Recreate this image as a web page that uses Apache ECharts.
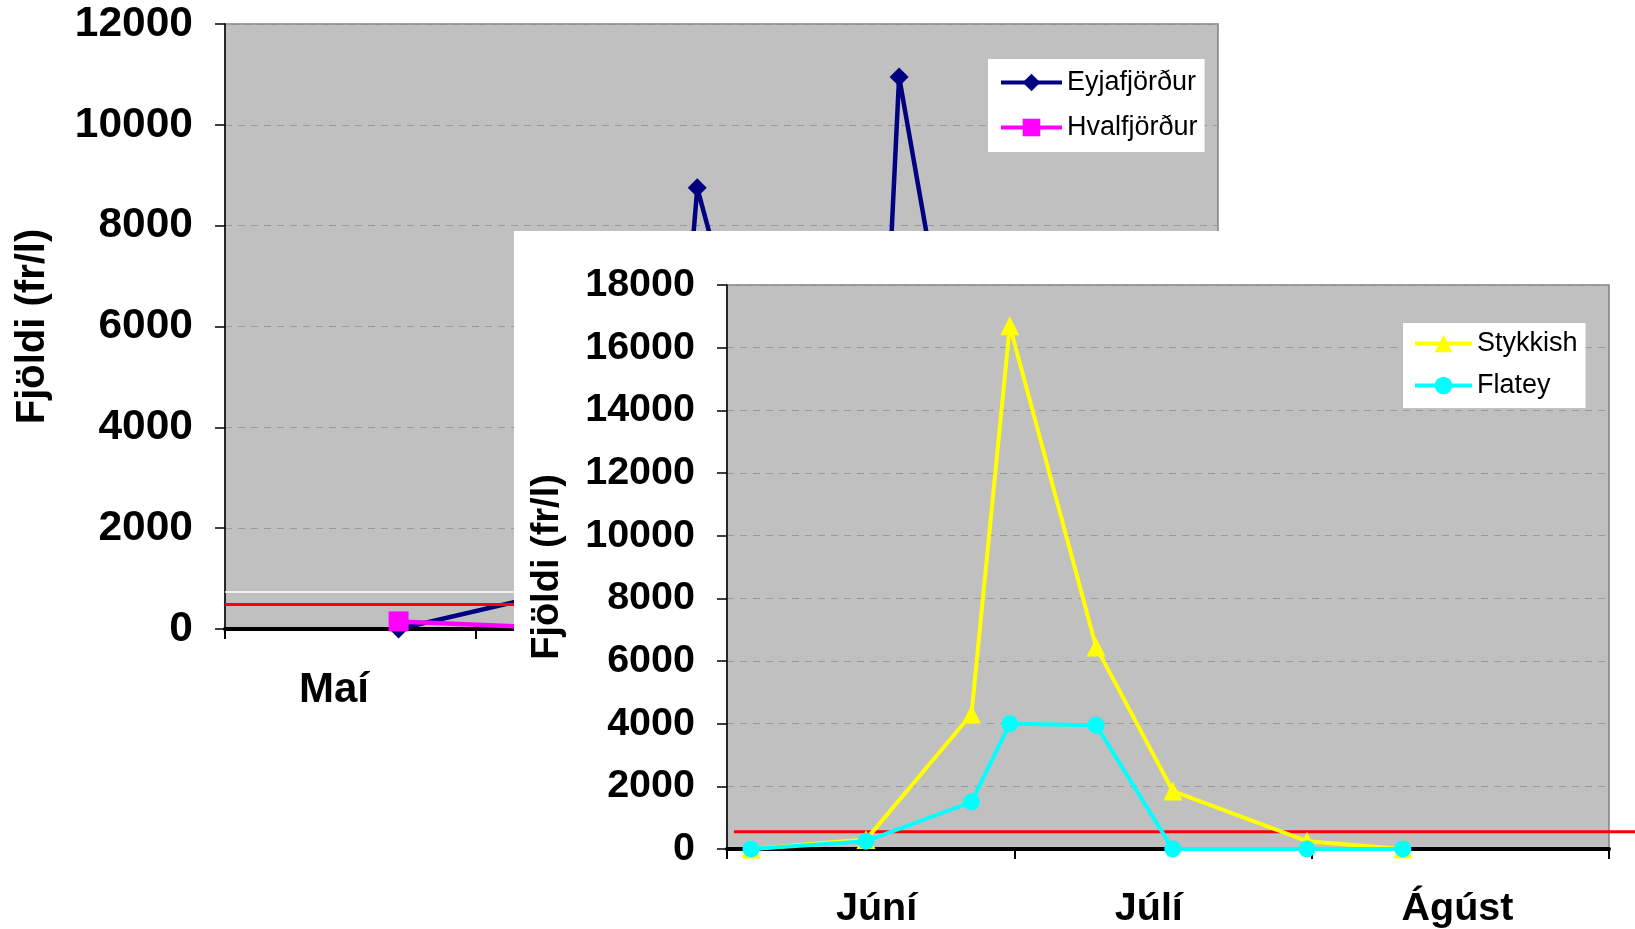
<!DOCTYPE html>
<html><head><meta charset="utf-8">
<script src="https://cdn.jsdelivr.net/npm/echarts@6/dist/echarts.min.js"></script>
<style>html,body{margin:0;padding:0;background:#fff}#c{width:1635px;height:929px}</style>
</head><body><div id="c"></div>
<script>
// ---- data ----
const monthNames = ['Maí', 'Júní', 'Júlí', 'Ágúst'];
const monthStarts = ['2005-05-01', '2005-06-01', '2005-07-01', '2005-08-01', '2005-09-01'];
const monthLabelOffsets = [13.5, 15.6, 14.0, 15.2]; // days after month start where the label sits

const backDates = ['2005-05-22', '2005-06-12', '2005-06-24', '2005-06-28', '2005-07-12', '2005-07-20', '2005-07-23', '2005-08-04', '2005-08-14', '2005-08-26'];
const eyjafjordur = [0, 780, 1000, 8750, 400, 1000, 10950, 0, 200, 0];
const hvalfjordur = [150, 10, 0, 0, 50, 0, 0, 0, 0, 0];

const frontDates = ['2005-06-03', '2005-06-15', '2005-06-26', '2005-06-30', '2005-07-09', '2005-07-17', '2005-07-31', '2005-08-10'];
const stykkish = [0, 300, 4300, 16700, 6450, 1850, 250, 0];
const flatey = [0, 250, 1500, 4000, 3950, 0, 0, 0];

const backYMax = 12000, frontYMax = 18000, yStep = 2000;
const backThreshold = 500;
const frontThreshold = 550;
const backWhiteLine = 730;
const yName = 'Fjöldi (fr/l)';

// ---- helpers ----
const day = s => (Date.parse(s) - Date.parse('2005-01-01')) / 86400000;
const starts = monthStarts.map(day);
const labelAt = starts.slice(0, -1).map((s, i) => s + monthLabelOffsets[i]);
const monthLabel = v => { const i = labelAt.findIndex(m => Math.abs(m - v) < 0.01); return i >= 0 ? monthNames[i] : ''; };
// each sample sits in the middle of its day slot
const pairs = (dates, vals) => dates.map((d, i) => [day(d) + 0.5, vals[i]]);

const FONT = 'Liberation Sans, Arial, sans-serif';
const gridLine = { show: true, lineStyle: { color: '#9a9a9a', type: [7, 6], width: 1 } };

function yAxis(gridIndex, max, fs, nameFs, gap, z) {
  return {
    type: 'value', gridIndex, min: 0, max, interval: yStep, z,
    name: yName, nameLocation: 'middle', nameRotate: 90, nameGap: gap,
    nameTextStyle: { fontFamily: FONT, fontWeight: 'bold', fontSize: nameFs, color: '#000' },
    axisLine: { show: true, lineStyle: { color: '#000', width: 1.5 } },
    axisTick: { show: true, inside: false, length: 10, lineStyle: { color: '#000', width: 1.5 } },
    axisLabel: { margin: 32, formatter: v => String(v), fontFamily: FONT, fontWeight: 'bold', fontSize: fs, color: '#000' },
    splitLine: gridLine
  };
}
function xAxis(gridIndex, min, max, fs, margin, z) {
  return {
    type: 'value', gridIndex, min, max, z,
    axisLine: { show: true, onZero: false, lineStyle: { color: '#000', width: 4 } },
    axisTick: { show: true, customValues: starts.filter(s => s >= min && s <= max), length: 10, lineStyle: { color: '#000', width: 2 } },
    axisLabel: { customValues: labelAt.filter(m => m >= min && m <= max), formatter: monthLabel, margin,
      fontFamily: FONT, fontWeight: 'bold', fontSize: fs, color: '#000' },
    splitLine: { show: false }
  };
}
const legendBase = {
  orient: 'vertical', backgroundColor: '#fff', itemHeight: 22,
  lineStyle: { width: 4 },
  textStyle: { fontFamily: FONT, fontSize: 27, color: '#000' }
};
const panel = { id: 'panel', type: 'rect', z: 50, silent: true, shape: { x: 514, y: 231, width: 1121, height: 698 }, style: { fill: '#ffffff' } };

const chart = echarts.init(document.getElementById('c'));
chart.setOption({
  animation: false,
  grid: [
    { left: 225, top: 24, width: 993, height: 605, show: true, backgroundColor: '#c0c0c0', borderColor: '#808080', borderWidth: 1.5, z: 0 },
    { left: 727, top: 285, width: 882, height: 565, show: true, backgroundColor: '#c0c0c0', borderColor: '#808080', borderWidth: 1.5, z: 60 }
  ],
  xAxis: [ xAxis(0, starts[0], starts[4], 42, 40, 1), xAxis(1, starts[1], starts[4], 39.5, 40, 61) ],
  yAxis: [ yAxis(0, backYMax, 42.5, 40, 172, 1), yAxis(1, frontYMax, 39.5, 38, 160, 61) ],
  legend: [
    Object.assign({}, legendBase, { data: ['Eyjafjörður', 'Hvalfjörður'], left: 988, top: 59, z: 4,
      padding: [10, 7, 11, 11], itemWidth: 61, itemGap: 18 }),
    Object.assign({}, legendBase, { data: ['Stykkish', 'Flatey'], left: 1403, top: 323, z: 70,
      padding: [7, 8, 9, 10], itemWidth: 57, itemGap: 15 })
  ],
  graphic: [ panel ],
  series: [
    { name: 'Eyjafjörður', type: 'line', xAxisIndex: 0, yAxisIndex: 0, z: 3, data: pairs(backDates, eyjafjordur),
      color: '#000080', lineStyle: { width: 4.5 }, symbol: 'diamond', symbolSize: 19, showAllSymbol: true,
      markLine: { silent: true, symbol: 'none', z: 5, label: { show: false }, data: [
        { yAxis: backThreshold, lineStyle: { color: '#ff0000', width: 3, type: 'solid' } },
        { yAxis: backWhiteLine, lineStyle: { color: '#ffffff', width: 1.5, type: 'solid' } }
      ] } },
    { name: 'Hvalfjörður', type: 'line', xAxisIndex: 0, yAxisIndex: 0, z: 4, data: pairs(backDates, hvalfjordur),
      color: '#ff00ff', lineStyle: { width: 4.5 }, symbol: 'rect', symbolSize: 20, showAllSymbol: true },
    { name: 'Stykkish', type: 'line', xAxisIndex: 1, yAxisIndex: 1, z: 62, data: pairs(frontDates, stykkish),
      color: '#ffff00', lineStyle: { width: 4 }, symbol: 'triangle', symbolSize: 19, showAllSymbol: true },
    { name: 'Flatey', type: 'line', xAxisIndex: 1, yAxisIndex: 1, z: 63, data: pairs(frontDates, flatey),
      color: '#00ffff', lineStyle: { width: 4 }, symbol: 'circle', symbolSize: 17, showAllSymbol: true }
  ]
});

// front threshold line: placed through the front axes' own scales, running on to the page edge
const yPix = chart.convertToPixel({ yAxisIndex: 1 }, frontThreshold);
const xPix = chart.convertToPixel({ xAxisIndex: 1 }, starts[1]) + 7;
chart.setOption({ graphic: [ panel, { id: 'redFront', type: 'line', z: 62, silent: true,
  shape: { x1: xPix, y1: yPix, x2: chart.getWidth(), y2: yPix }, style: { stroke: '#ff0000', lineWidth: 3 } } ] });
</script></body></html>
